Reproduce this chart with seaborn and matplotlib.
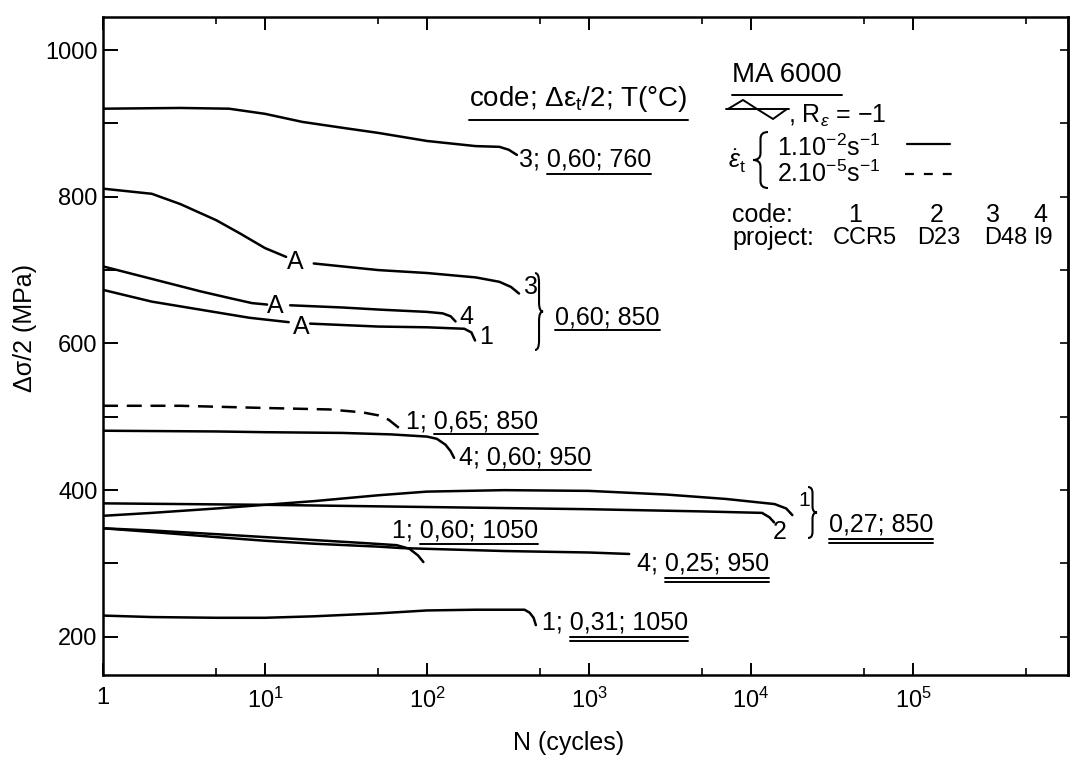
import numpy as np
import pandas as pd
import seaborn as sns
import matplotlib
matplotlib.use("Agg")
import matplotlib.pyplot as plt
from matplotlib.path import Path
from matplotlib.patches import PathPatch
from matplotlib.lines import Line2D
from matplotlib.ticker import FixedLocator, FixedFormatter, NullFormatter

# ---------------- data ----------------
# code 3 ; 0.60 ; 760 C
N_3_060_760 = [1, 3, 6, 10, 17, 30, 50, 100, 200, 280, 320, 359]
S_3_060_760 = [920, 921, 920, 913, 902, 894, 887, 876, 869, 868, 864, 857]
# 0.60 ; 850 C group, each curve interrupted by the 'A' mark
N_3_060_850_a = [1, 2, 3, 5, 7, 10, 13.5]
S_3_060_850_a = [811, 804, 790, 768, 750, 730, 718]
N_3_060_850_b = [20, 50, 100, 200, 280, 330, 370]
S_3_060_850_b = [709, 700, 696, 690, 684, 677, 668]
N_4_060_850_a = [1, 2, 4, 6, 8.3, 10.3]
S_4_060_850_a = [705, 688, 671, 662, 655, 653]
N_4_060_850_b = [14.3, 30, 52, 100, 125, 140, 150]
S_4_060_850_b = [652, 649, 646, 643, 641, 637, 630]
N_1_060_850_a = [1, 2, 4, 8, 14]
S_1_060_850_a = [673, 657, 646, 635, 629]
N_1_060_850_b = [19, 50, 100, 170, 188, 198]
S_1_060_850_b = [627, 623, 622, 620, 615, 604]
# code 1 ; 0.65 ; 850 C  (slow strain rate, dashed)
N_1_065_850 = [1, 3, 10, 25, 40, 50, 58, 67]
S_1_065_850 = [515, 515, 512, 510, 506, 502, 496, 485]
# code 4 ; 0.60 ; 950 C
N_4_060_950 = [1, 5, 10, 30, 60, 100, 115, 130, 140, 147]
S_4_060_950 = [481, 480, 479, 478, 476, 473, 470, 462, 453, 444]
# 0.27 ; 850 C, codes 1 and 2
N_1_027_850 = [1, 2, 5, 10, 20, 50, 100, 300, 1000, 3000, 7000, 14000, 16500, 18000]
S_1_027_850 = [365, 369, 375, 380, 385, 393, 398, 400, 399, 394, 388, 381, 375, 366]
N_2_027_850 = [1, 10, 100, 1000, 5000, 11700, 13000, 13900]
S_2_027_850 = [382, 380, 377, 374, 371, 369, 363, 356]
# code 1 ; 0.60 ; 1050 C
N_1_060_1050 = [1, 2, 5, 10, 20, 40, 65, 78, 88, 95]
S_1_060_1050 = [348, 345, 340, 336, 332, 328, 325, 320, 311, 302]
# code 4 ; 0.25 ; 950 C
N_4_025_950 = [1, 2, 5, 10, 20, 50, 70, 100, 300, 1000, 1770]
S_4_025_950 = [348, 343, 336, 331, 327, 323, 321, 320, 317, 315, 313]
# code 1 ; 0.31 ; 1050 C
N_1_031_1050 = [1, 2, 5, 10, 20, 50, 100, 200, 400, 430, 455, 470]
S_1_031_1050 = [229, 227, 226, 226, 228, 232, 236, 237, 237, 233, 226, 216]

X_TICKS = [1, 10, 100, 1000, 10000, 100000]
X_TICK_LABELS = ["1", "$10^1$", "$10^2$", "$10^3$", "$10^4$", "$10^5$"]
X_MINOR = [5, 50, 500, 5000, 50000, 500000]
Y_TICKS = [200, 300, 400, 500, 600, 700, 800, 900, 1000]
Y_TICK_LABELS = ["200", "", "400", "", "600", "", "800", "", "1000"]

FAST, SLOW = "1.10-2", "2.10-5"
series = [
    ("3;0.60;760", N_3_060_760, S_3_060_760, FAST),
    ("3;0.60;850a", N_3_060_850_a, S_3_060_850_a, FAST),
    ("3;0.60;850b", N_3_060_850_b, S_3_060_850_b, FAST),
    ("4;0.60;850a", N_4_060_850_a, S_4_060_850_a, FAST),
    ("4;0.60;850b", N_4_060_850_b, S_4_060_850_b, FAST),
    ("1;0.60;850a", N_1_060_850_a, S_1_060_850_a, FAST),
    ("1;0.60;850b", N_1_060_850_b, S_1_060_850_b, FAST),
    ("1;0.65;850", N_1_065_850, S_1_065_850, SLOW),
    ("4;0.60;950", N_4_060_950, S_4_060_950, FAST),
    ("1;0.27;850", N_1_027_850, S_1_027_850, FAST),
    ("2;0.27;850", N_2_027_850, S_2_027_850, FAST),
    ("1;0.60;1050", N_1_060_1050, S_1_060_1050, FAST),
    ("4;0.25;950", N_4_025_950, S_4_025_950, FAST),
    ("1;0.31;1050", N_1_031_1050, S_1_031_1050, FAST),
]
df = pd.DataFrame(
    [(name, n, s, rate) for name, ns, ss, rate in series for n, s in zip(ns, ss)],
    columns=["curve", "N", "stress", "rate"],
)

# ---------------- style ----------------
sns.set_theme(style="ticks")
FONT = "Liberation Sans"
plt.rcParams["font.family"] = [FONT, "DejaVu Sans"]
plt.rcParams["mathtext.fontset"] = "custom"
plt.rcParams["mathtext.rm"] = FONT
plt.rcParams["mathtext.it"] = FONT + ":italic"
plt.rcParams["mathtext.sf"] = FONT
plt.rcParams["mathtext.bf"] = FONT + ":bold"
FS = 18
TS = 17
INK = "black"

fig = plt.figure(figsize=(10.7, 7.58), dpi=100)
ax = fig.add_axes([103 / 1070, 1 - 675 / 758, 965 / 1070, 658 / 758])

sns.lineplot(
    data=df, x="N", y="stress", units="curve", estimator=None, style="rate",
    style_order=[FAST, SLOW], dashes={FAST: "", SLOW: (6, 3.5)},
    color=INK, lw=1.8, sort=False, legend=False, ax=ax,
)

ax.set_xscale("log")
ax.set_xlim(1, 10 ** 5.957)
ax.set_ylim(148, 1045)
ax.xaxis.set_major_locator(FixedLocator(X_TICKS))
ax.xaxis.set_major_formatter(FixedFormatter(X_TICK_LABELS))
ax.xaxis.set_minor_locator(FixedLocator(X_MINOR))
ax.xaxis.set_minor_formatter(NullFormatter())
ax.yaxis.set_major_locator(FixedLocator(Y_TICKS))
ax.yaxis.set_major_formatter(FixedFormatter(Y_TICK_LABELS))
ax.tick_params(axis="x", which="major", direction="in", length=9, width=1.4,
               top=True, labelsize=TS, pad=9, colors=INK)
ax.tick_params(axis="x", which="minor", direction="in", length=5, width=1.4, top=True)
ax.tick_params(axis="y", which="major", direction="in", length=11, width=1.4,
               labelsize=TS, pad=4, colors=INK)
sec = ax.secondary_yaxis("right")
sec.set_yticks(Y_TICKS)
sec.set_yticklabels([])
sec.tick_params(direction="in", length=6, width=1.4)
sec.spines["right"].set_linewidth(1.8)
for sp in ax.spines.values():
    sp.set_linewidth(1.8)
    sp.set_color(INK)

ax.set_xlabel("N (cycles)", fontsize=FS, color=INK)
ax.set_ylabel("Δσ/2 (MPa)", fontsize=FS, color=INK)
ax.xaxis.set_label_coords(0.482, -0.085)
ax.yaxis.set_label_coords(-0.068, 0.527)

# ---------------- annotations ----------------
underlines = []


def label(x, y, pre, und="", n=0, gap=4, transform=None, fs=FS, ha="left"):
    t = ax.text(x, y, pre + und, fontsize=fs, ha=ha, va="center_baseline",
                transform=transform or ax.transData, color=INK, clip_on=False)
    if n:
        underlines.append((t, pre, und, n, gap))
    return t


def brace(x_back, x_tip, y_top, y_bot, lw=1.5):
    xm = (x_back + x_tip) / 2
    ym = (y_top + y_bot) / 2
    r = (y_top - y_bot) * 0.12
    verts = [(x_back, y_top), (xm, y_top), (xm, y_top - r), (xm, ym + r),
             (xm, ym), (x_tip, ym), (xm, ym), (xm, ym - r), (xm, y_bot + r),
             (xm, y_bot), (x_back, y_bot)]
    codes = [Path.MOVETO, Path.CURVE3, Path.CURVE3, Path.LINETO, Path.CURVE3,
             Path.CURVE3, Path.CURVE3, Path.CURVE3, Path.LINETO, Path.CURVE3,
             Path.CURVE3]
    ax.add_patch(PathPatch(Path(verts, codes), fill=False, lw=lw, ec=INK,
                           transform=ax.transAxes, clip_on=False))


label(182, 939, "", "code; Δε$_\\mathrm{t}$/2; T(°C)", 1, 14, fs=20)
label(370, 854, "3; ", "0,60; 760", 1, 6)
label(438, 680, "3", ha="center")
label(174, 639, "4", ha="center")
label(231, 612, "1", ha="center")
brace(0.4477, 0.4560, 0.6109, 0.4939)
label(617, 639, "", "0,60; 850", 1, 4)
label(15.3, 714, "A", ha="center")
label(11.5, 654, "A", ha="center")
label(16.7, 626, "A", ha="center")
label(74, 497, "1; ", "0,65; 850", 1, 4)
label(158, 448, "4; ", "0,60; 950", 1, 4)
label(21200, 389, "1", fs=15, ha="center")
label(15100, 347, "2", ha="center")
brace(0.7306, 0.7399, 0.2857, 0.2082)
label(30300, 356, "", "0,27; 850", 2, 6)
label(61, 348, "1; ", "0,60; 1050", 1, 5)
label(1980, 303, "4; ", "0,25; 950", 2, 6)
label(513, 223, "1; ", "0,31; 1050", 2, 6)

# legend block (axes fraction)
T = ax.transAxes
label(0.652, 0.9157, "", "MA 6000", 1, 7, transform=T, fs=20)
ax.plot([0.6457, 0.7108], [0.8602, 0.8602], color=INK, lw=1.4, transform=T, clip_on=False)
ax.plot([0.6477, 0.6632, 0.6777, 0.6943, 0.7088], [0.8602, 0.8739, 0.8602, 0.8450, 0.8602],
        color=INK, lw=1.4, transform=T, clip_on=False)
label(0.7098, 0.8549, ", R$_\\varepsilon$ = −1", transform=T)
label(0.6477, 0.785, "$\\dot{\\varepsilon}_\\mathrm{t}$", transform=T)
brace(0.6891, 0.6736, 0.8252, 0.7401)
label(0.6984, 0.8047, "1.10$^{-2}$s$^{-1}$", transform=T)
label(0.6984, 0.766, "2.10$^{-5}$s$^{-1}$", transform=T)
ax.plot([0.8332, 0.8777], [0.807, 0.807], color=INK, lw=1.6, transform=T, clip_on=False)
ax.plot([0.8311, 0.8798], [0.7614, 0.7614], color=INK, lw=1.6, ls=(0, (4, 4.5)),
        transform=T, clip_on=False)
label(0.6518, 0.703, "code:", transform=T)
for xc, s in zip([0.7793, 0.8642, 0.9223, 0.9710], ["1", "2", "3", "4"]):
    label(xc, 0.703, s, transform=T, ha="center")
label(0.6518, 0.6672, "project:", transform=T)
for xl, s in zip([0.7565, 0.8435, 0.9130, 0.9650], ["CCR5", "D23", "D48", "I9"]):
    label(xl, 0.6672, s, transform=T, fs=17)

# draw underlines measured from the rendered texts
fig.canvas.draw()
rend = fig.canvas.get_renderer()
inv = fig.transFigure.inverted()
for t, pre, und, n, gap in underlines:
    bb = t.get_window_extent(rend)
    prop = t.get_fontproperties()
    _, _, desc = rend.get_text_width_height_descent(pre + und, prop, ismath="$" in (pre + und))
    x0 = bb.x0
    if pre:
        wu, _, _ = rend.get_text_width_height_descent(und, prop, ismath="$" in und)
        x0 = bb.x1 - wu
    base = bb.y0 + desc
    for i in range(n):
        yy = base - gap - 4 * i
        (fx0, fy), (fx1, _) = inv.transform([(x0, yy), (bb.x1, yy)])
        fig.add_artist(Line2D([fx0, fx1], [fy, fy], color=INK, lw=1.4))

fig.savefig("out.png", dpi=100, facecolor="white")
